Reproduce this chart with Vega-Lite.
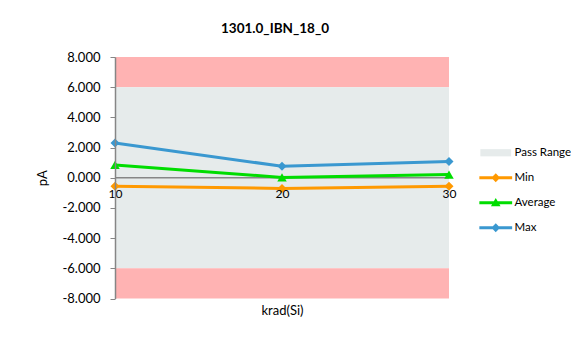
{
  "$schema": "https://vega.github.io/schema/vega-lite/v6.json",
  "width": 334,
  "height": 241.5,
  "autosize": {"type": "none"},
  "padding": {"left": 115, "top": 57, "right": 122, "bottom": 40.5},
  "title": {"text": "1301.0_IBN_18_0", "fontSize": 13.5, "fontWeight": "bold", "font": "Lato", "color": "#000000", "anchor": "middle", "frame": "group", "dx": -7, "offset": 16},
  "config": {
    "view": {"stroke": null},
    "font": "Lato",
    "axis": {"grid": false, "labelColor": "#000000", "titleColor": "#000000", "labelFont": "Lato", "titleFont": "Lato"},
    "legend": {
      "orient": "none", "legendX": 375, "legendY": 90, "title": null,
      "labelFontSize": 11.5, "labelFont": "Lato", "labelColor": "#000000",
      "symbolSize": 64, "labelOffset": 13, "rowPadding": 12,
      "symbolOpacity": 1, "symbolStrokeWidth": 0
    }
  },
  "resolve": {"legend": {"color": "independent", "shape": "independent"}},
  "datasets": {
    "bands": [
      {"zone": "fail", "lo": 6, "hi": 8},
      {"zone": "pass", "lo": -6, "hi": 6},
      {"zone": "fail", "lo": -8, "hi": -6}
    ],
    "series": [
      {"krad": 10, "series": "Min", "pA": -0.56},
      {"krad": 20, "series": "Min", "pA": -0.71},
      {"krad": 30, "series": "Min", "pA": -0.56},
      {"krad": 10, "series": "Average", "pA": 0.85},
      {"krad": 20, "series": "Average", "pA": 0.02},
      {"krad": 30, "series": "Average", "pA": 0.21},
      {"krad": 10, "series": "Max", "pA": 2.3},
      {"krad": 20, "series": "Max", "pA": 0.76},
      {"krad": 30, "series": "Max", "pA": 1.07}
    ],
    "legendItems": [
      {"series": "Pass Range"},
      {"series": "Min"},
      {"series": "Average"},
      {"series": "Max"}
    ]
  },
  "layer": [
    {
      "data": {"name": "bands"},
      "mark": {"type": "rect"},
      "encoding": {
        "y": {"field": "lo", "type": "quantitative",
          "scale": {"domain": [-8, 8], "nice": false, "zero": false},
          "axis": {"values": [-8, -6, -4, -2, 0, 2, 4, 6, 8], "tickCount": 20, "labelExpr": "replace(format(datum.value, '.3f'), '\u2212', '-')",
            "labelFontSize": 13, "labelOverlap": false, "labelBound": false, "labelFlush": false,
            "tickColor": "#868686", "tickSize": 5, "domainColor": "#868686", "domainWidth": 1.5,
            "labelPadding": 10, "title": "pA", "titleFontSize": 13, "titleFontWeight": "normal",
            "titlePadding": 12, "zindex": 1}},
        "y2": {"field": "hi"},
        "color": {"condition": {"test": "datum.zone === 'pass'", "value": "#E6EBEB"}, "value": "#FFB3B3"}
      }
    },
    {
      "data": {"values": [{"pA": 0}]},
      "mark": {"type": "rule", "color": "#868686", "strokeWidth": 1.5},
      "encoding": {"y": {"field": "pA", "type": "quantitative",
          "axis": {"values": [-8, -6, -4, -2, 0, 2, 4, 6, 8], "tickCount": 20, "labelExpr": "replace(format(datum.value, '.3f'), '\u2212', '-')",
            "labelFontSize": 13, "labelOverlap": false, "labelBound": false, "labelFlush": false,
            "tickColor": "#868686", "tickSize": 5, "domainColor": "#868686", "domainWidth": 1.5,
            "labelPadding": 10, "title": "pA", "titleFontSize": 13, "titleFontWeight": "normal",
            "titlePadding": 12, "zindex": 1}}}
    },
    {
      "data": {"name": "series"},
      "mark": {"type": "line", "strokeWidth": 3},
      "encoding": {
        "x": {"field": "krad", "type": "quantitative",
          "scale": {"domain": [10, 30], "nice": false, "zero": false},
          "axis": {"values": [10, 20, 30], "tickCount": 10, "offset": -120.75, "ticks": false, "domain": false,
            "labelPadding": 11, "labelFontSize": 12, "labelFlush": false, "labelBound": false, "labelOverlap": false,
            "title": "krad(Si)", "titleY": 127, "titleFontSize": 13, "titleFontWeight": "normal", "zindex": 1}},
        "y": {"field": "pA", "type": "quantitative",
          "axis": {"values": [-8, -6, -4, -2, 0, 2, 4, 6, 8], "tickCount": 20, "labelExpr": "replace(format(datum.value, '.3f'), '\u2212', '-')",
            "labelFontSize": 13, "labelOverlap": false, "labelBound": false, "labelFlush": false,
            "tickColor": "#868686", "tickSize": 5, "domainColor": "#868686", "domainWidth": 1.5,
            "labelPadding": 10, "title": "pA", "titleFontSize": 13, "titleFontWeight": "normal",
            "titlePadding": 12, "zindex": 1}},
        "color": {"field": "series", "type": "nominal",
          "scale": {"domain": ["Pass Range", "Min", "Average", "Max"], "range": ["#E6EBEB", "#FF9900", "#00DD00", "#3A98D0"]},
          "legend": null}
      }
    },
    {
      "data": {"name": "series"},
      "transform": [{"filter": "datum.series !== 'Average'"}],
      "mark": {"type": "point", "shape": "diamond", "filled": true, "opacity": 1, "size": 81},
      "encoding": {
        "x": {"field": "krad", "type": "quantitative"},
        "y": {"field": "pA", "type": "quantitative"},
        "color": {"field": "series", "type": "nominal", "legend": null}
      }
    },
    {
      "data": {"name": "series"},
      "transform": [{"filter": "datum.series === 'Average'"}],
      "mark": {"type": "point", "shape": "triangle-up", "filled": true, "opacity": 1, "size": 90},
      "encoding": {
        "x": {"field": "krad", "type": "quantitative"},
        "y": {"field": "pA", "type": "quantitative"},
        "color": {"field": "series", "type": "nominal", "legend": null}
      }
    },
    {
      "data": {"name": "legendItems"},
      "mark": {"type": "point", "filled": true, "opacity": 0, "size": 64},
      "encoding": {
        "color": {"field": "series", "type": "nominal", "legend": {}},
        "shape": {"field": "series", "type": "nominal", "legend": {},
          "scale": {"domain": ["Pass Range", "Min", "Average", "Max"],
            "range": [
              "M-3.85,-0.9H3.85V0.9H-3.85Z",
              "M-4.1,-0.4H4.1V0.4H-4.1Z M0,-1.1L1.1,0L0,1.1L-1.1,0Z",
              "M-4.1,-0.4H4.1V0.4H-4.1Z M0,-1.2L1.2,0.9H-1.2Z",
              "M-4.1,-0.4H4.1V0.4H-4.1Z M0,-1.1L1.1,0L0,1.1L-1.1,0Z"
            ]}}
      }
    }
  ]
}
